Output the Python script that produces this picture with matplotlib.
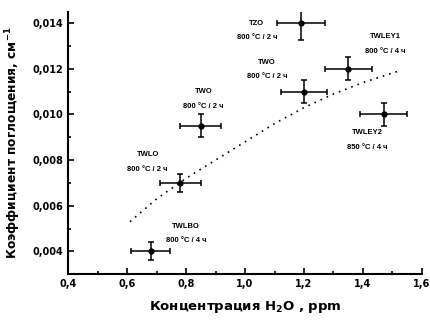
import matplotlib
matplotlib.use("Agg")
import matplotlib.pyplot as plt
from matplotlib.ticker import MultipleLocator, FuncFormatter

# --- data ---
samples  = ["TWLBO", "TWLO", "TWO", "TZO", "TWO", "TWLEY1", "TWLEY2"]
regimes  = ["800 °C / 4 ч", "800 °C / 2 ч", "800 °C / 2 ч", "800 °C / 2 ч",
            "800 °C / 2 ч", "800 °C / 4 ч", "850 °C / 4 ч"]
h2o      = [0.68, 0.78, 0.85, 1.19, 1.20, 1.35, 1.47]
h2o_err  = [0.065, 0.07, 0.07, 0.08, 0.077, 0.08, 0.08]
absorb   = [0.0040, 0.0070, 0.0095, 0.0140, 0.0110, 0.0120, 0.0100]
abs_err  = [0.0004, 0.0004, 0.0005, 0.00075, 0.0005, 0.0005, 0.0005]

fit_x = [0.61, 0.70, 0.80, 0.90, 1.00, 1.10, 1.20, 1.30, 1.40, 1.52]
fit_y = [0.0053, 0.0063, 0.0072, 0.0080, 0.0088, 0.0096, 0.0103, 0.0109, 0.0114, 0.0119]

# label anchor offsets (data units) relative to each point
lab_dx = [0.12, -0.11, 0.01, -0.15, -0.125, 0.125, -0.056]
lab_dy = [0.0011, 0.00124, 0.0015, 0.0000, 0.0013, 0.0014, -0.0008]

plt.rcParams["font.family"] = ["DejaVu Sans"]
plt.rcParams["font.weight"] = "bold"
plt.rcParams["mathtext.default"] = "bf"

fig = plt.figure(figsize=(4.31, 3.21), dpi=100)
ax = fig.add_axes([0.158, 0.146, 0.821, 0.817])

ax.plot(fit_x, fit_y, linestyle=(0, (1, 3)), color="black", lw=1.2)
ax.errorbar(h2o, absorb, xerr=h2o_err, yerr=abs_err, fmt="o", color="black",
            ms=3.5, elinewidth=1.1, capsize=2.5, capthick=1.1)

for i in range(len(samples)):
    tx = h2o[i] + lab_dx[i]
    ty = absorb[i] + lab_dy[i]
    ax.text(tx, ty, samples[i], fontsize=5.5, ha="center", va="center",
            fontweight="bold", family="Liberation Sans")
    ax.text(tx, ty - 0.00064, regimes[i], fontsize=5.5, ha="center", va="center",
            fontweight="bold", family="Liberation Sans")

ax.set_xlim(0.4, 1.6)
ax.set_ylim(0.003, 0.0145)
ax.xaxis.set_major_locator(MultipleLocator(0.2))
ax.xaxis.set_minor_locator(MultipleLocator(0.1))
ax.yaxis.set_minor_locator(MultipleLocator(0.001))
ax.set_yticks([0.004, 0.006, 0.008, 0.010, 0.012, 0.014])
ax.xaxis.set_major_formatter(FuncFormatter(lambda v, p: f"{v:.1f}".replace(".", ",")))
ax.yaxis.set_major_formatter(FuncFormatter(lambda v, p: f"{v:.3f}".replace(".", ",")))
ax.tick_params(which="both", direction="in", width=1.2, labelsize=7)
ax.tick_params(which="major", length=4)
ax.tick_params(which="minor", length=2.5)
for lab in ax.get_xticklabels() + ax.get_yticklabels():
    lab.set_fontweight("bold")

ax.spines["top"].set_visible(False)
ax.spines["right"].set_visible(False)
ax.spines["left"].set_linewidth(1.5)
ax.spines["bottom"].set_linewidth(1.5)

ax.set_xlabel("Концентрация H$_2$O , ppm", fontsize=9.5, fontweight="bold", labelpad=7)
ax.set_ylabel("Коэффициент поглощения, см$^{-1}$", fontsize=8.8, fontweight="bold", labelpad=7)

fig.savefig("out.png", dpi=100)
